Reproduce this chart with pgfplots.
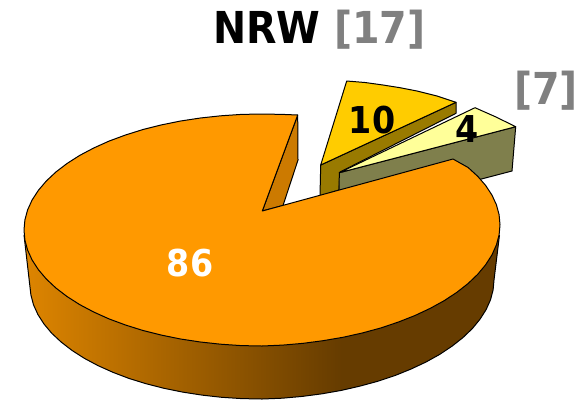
\documentclass[border=0pt]{standalone}
\usepackage{fontspec}
\setmainfont{DejaVu Sans Condensed}
\usepackage{pgfplots}
\pgfplotsset{compat=1.18}
\definecolor{mainor}{HTML}{FF9900}
\definecolor{gold}{HTML}{FFCC00}
\definecolor{goldside}{HTML}{997A00}
\definecolor{lemon}{HTML}{FFFF99}
\definecolor{lemonside}{HTML}{7F7F4C}
\definecolor{wallor}{HTML}{CC7A00}
\definecolor{sideL}{HTML}{DE8500}
\definecolor{sideR}{HTML}{663C00}
\definecolor{txtgray}{HTML}{808080}
\begin{document}
\begin{tikzpicture}
\path[use as bounding box] (0,0) rectangle (580pt,400pt);
\begin{axis}[
  at={(0,0)}, anchor=south west,
  x=1pt, y=1pt, xmin=0, xmax=580, ymin=0, ymax=400,
  y dir=reverse, hide axis, clip=false,
  every axis plot/.append style={line join=round, line width=1pt},
]
% slice 10: side, then top
\addplot[draw=black, fill=goldside] coordinates {(320.7,165) (456,102.3) (456,113.3) (340,172) (339,190) (320,196)} -- cycle;
\addplot[draw=black, fill=gold] coordinates {(320.7,165) (346.7,81) (365,82.5) (383,85) (400,87.7) (417,91) (437,96) (456,102.3)} -- cycle;
% slice 4: wall, then top
\addplot[draw=black, fill=lemonside] coordinates {(339.3,172.7) (515.7,126.7) (512,171) (470,182) (339,200)} -- cycle;
\addplot[draw=black, fill=lemon] coordinates {(339.3,172.7) (475,107.7) (496,117) (515.7,126.7)} -- cycle;
% slice 86: inner wall
\addplot[draw=black, fill=wallor] coordinates {(262.3,211) (297.7,115) (298,160) (283,205.5)} -- cycle;
% outer side, left part shaded, right part flat
\addplot[draw=none, fill=sideR] coordinates {(340,240) (340,390) (341.3,390.4) (360,386.1) (378,381.2) (395.1,375.5) (411.1,369) (426,362) (439.7,354.4) (452,346.2) (462.9,337.6) (472.3,328.6) (480,319.2) (486.1,309.6) (490.5,299.8) (493.1,289.9) (494,280) (499.5,235)} -- cycle;
\addplot[draw=none, left color=sideL, right color=sideR] coordinates {(24,235) (30.9,294.9) (33.5,304.8) (37.9,314.5) (44,324) (51.7,333.2) (61.1,342) (72,350.4) (84.3,358.3) (98,365.6) (112.9,372.3) (128.9,378.4) (146,383.7) (164,388.3) (182.7,392.1) (202,395.1) (221.7,397.3) (241.8,398.6) (262,399) (282.2,398.2) (302.3,396.4) (322,393.8) (341.3,390.4) (341.3,240)} -- cycle;
\addplot[draw=black, fill=none] coordinates {(24,235) (30.9,294.9) (33.5,304.8) (37.9,314.5) (44,324) (51.7,333.2) (61.1,342) (72,350.4) (84.3,358.3) (98,365.6) (112.9,372.3) (128.9,378.4) (146,383.7) (164,388.3) (182.7,392.1) (202,395.1) (221.7,397.3) (241.8,398.6) (262,399) (282.2,398.2) (302.3,396.4) (322,393.8) (341.3,390.4) (360,386.1) (378,381.2) (395.1,375.5) (411.1,369) (426,362) (439.7,354.4) (452,346.2) (462.9,337.6) (472.3,328.6) (480,319.2) (486.1,309.6) (490.5,299.8) (493.1,289.9) (494,280) (499.5,235)};
% slice 86: top face
\addplot[draw=black, fill=mainor] coordinates {(262.3,211) (297.7,115) (282.7,114.4) (262,114) (241.3,114.4) (220.7,115.8) (200.4,118) (180.6,121) (161.4,124.9) (143,129.5) (125.5,135) (109,141.1) (93.7,148) (79.7,155.4) (67,163.5) (55.9,172) (46.3,181) (38.4,190.3) (32.1,200) (27.6,209.9) (24.9,219.9) (24,230) (24.9,240.1) (27.6,250.1) (32.1,260) (38.4,269.7) (46.3,279) (55.9,288) (67,296.5) (79.7,304.6) (93.7,312) (109,318.9) (125.5,325) (143,330.5) (161.4,335.1) (180.6,339) (200.4,342) (220.7,344.2) (241.3,345.6) (262,346) (282.7,345.1) (303.3,343.3) (323.6,340.6) (343.4,337.2) (362.6,332.9) (381,327.9) (398.5,322) (415,315.5) (430.3,308.3) (444.3,300.6) (457,292.2) (468.1,283.5) (477.7,274.3) (485.6,264.8) (491.9,255) (496.4,244.9) (499.1,234.9) (500,224.8) (499.1,214.7) (496.4,204.7) (491.9,195) (485.6,185.4) (477.7,176.3) (468.1,167.5) (453,159)} -- cycle;
% labels
\node[anchor=base west, font=\fontsize{44}{44}\selectfont\bfseries, inner sep=0pt] at (axis cs:213,43) {NRW \textcolor{txtgray}{[17]}};
\node[anchor=base east, font=\fontsize{44}{44}\selectfont\bfseries, text=txtgray, inner sep=0pt] at (axis cs:578,104) {[7]};
\node[anchor=base, font=\fontsize{37}{37}\selectfont\bfseries, inner sep=0pt] at (axis cs:372,133) {10};
\node[anchor=base, font=\fontsize{37}{37}\selectfont\bfseries, inner sep=0pt] at (axis cs:467,142) {4};
\node[anchor=base, font=\fontsize{37}{37}\selectfont\bfseries, text=white, inner sep=0pt] at (axis cs:190,276) {86};
\end{axis}
\end{tikzpicture}
\end{document}
